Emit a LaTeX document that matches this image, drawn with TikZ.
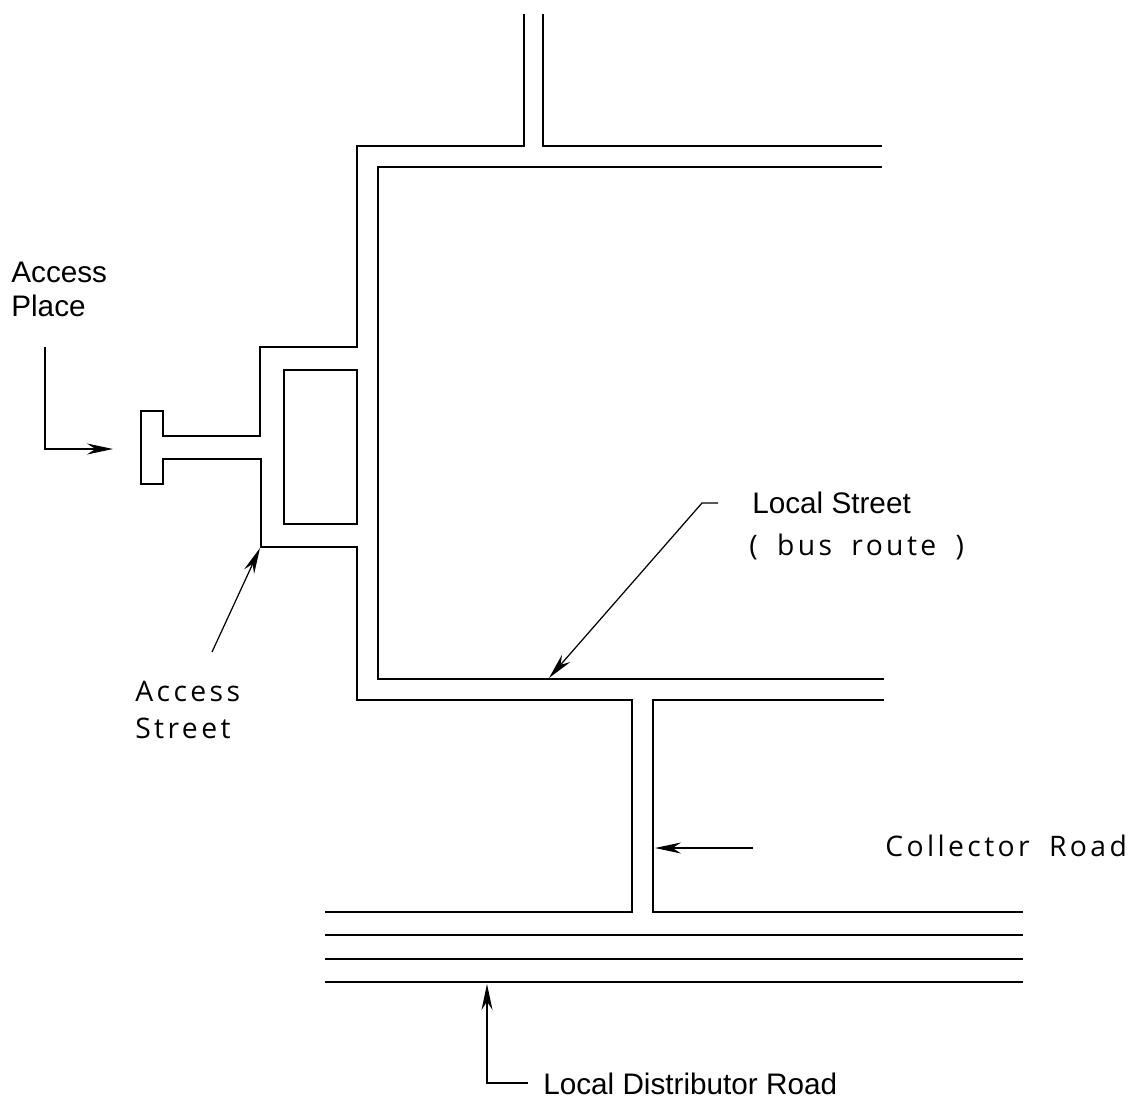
\documentclass[tikz,border=0pt]{standalone}
\usepackage{fontspec}
\setmainfont{Liberation Sans}
\newfontfamily\cadfont[LetterSpace = 12, WordSpace = 1.8]{Open Sans}
\usetikzlibrary{arrows.meta}
\tikzset{
    road/.style = {draw = black, line width = 1.4pt},
    leader/.style = {draw = black, line width = 0.7pt, -{Stealth[length = 0.52cm, width = 0.22cm]}},
    plainlabel/.style = {anchor = west, inner sep = 0pt, font = \fontsize{16.9}{20}\selectfont},
    cadlabel/.style = {anchor = west, inner sep = 0pt, font = \cadfont\fontsize{16.1}{20}\selectfont}
}
\begin{document}
\begin{tikzpicture}[x = 0.02cm, y = -0.02cm]
        \useasboundingbox (0, 0) rectangle (1129, 1099);
        % road outlines
        \draw[road] (524, 14) -- (524, 146) -- (357, 146) -- (357, 347) -- (260, 347) -- (260, 436) -- (163, 436) -- (163, 411) -- (141, 411) -- (141, 484) -- (163, 484) -- (163, 459) -- (261, 459) -- (261, 547) -- (357, 547) -- (357, 700) -- (632, 700) -- (632, 912) -- (325, 912);
        \draw[road] (543, 14) -- (543, 146) -- (882, 146);
        \draw[road] (882, 167) -- (378, 167) -- (378, 679) -- (884, 679);
        \draw[road] (884, 700) -- (653, 700) -- (653, 912) -- (1023, 912);
        \draw[road] (284, 370) rectangle (357, 524);
        \foreach \ypos in {935, 959, 982}{
            \draw[road] (325, \ypos) -- (1023, \ypos);
        }
        % labels
        \node[plainlabel] (accessplace1) at (11, 272) {Access};
        \node[plainlabel] (accessplace2) at (11, 306) {Place};
        \node[cadlabel] (accessstreet1) at (135, 691) {Access};
        \node[cadlabel] (accessstreet2) at (135, 728) {Street};
        \node[plainlabel] (localstreet) at (752, 503) {Local Street};
        \node[cadlabel] (busroute) at (749, 547) {( bus route )};
        \node[cadlabel] (collector) at (885, 846) {Collector Road};
        \node[plainlabel] (distributor) at (543, 1084) {Local Distributor Road};
        % leaders
        \coordinate (placestart) at (45, 347);
        \coordinate (placebend) at (45, 449);
        \coordinate (placeend) at (113, 449);
        \coordinate (streetstart) at (212, 652);
        \coordinate (streetend) at (260, 548);
        \coordinate (localstart) at (718, 503);
        \coordinate (localbend) at (702, 503);
        \coordinate (localend) at (549, 678);
        \coordinate (collectorstart) at (753, 848);
        \coordinate (collectorend) at (655, 848);
        \coordinate (roadstart) at (528, 1083);
        \coordinate (roadbend) at (487, 1083);
        \coordinate (roadend) at (487, 984);
        \draw[leader] (placestart) -- (placebend) -- (placeend);
        \draw[leader] (streetstart) -- (streetend);
        \draw[leader] (localstart) -- (localbend) -- (localend);
        \draw[leader] (collectorstart) -- (collectorend);
        \draw[leader] (roadstart) -- (roadbend) -- (roadend);
    \end{tikzpicture}
\end{document}
